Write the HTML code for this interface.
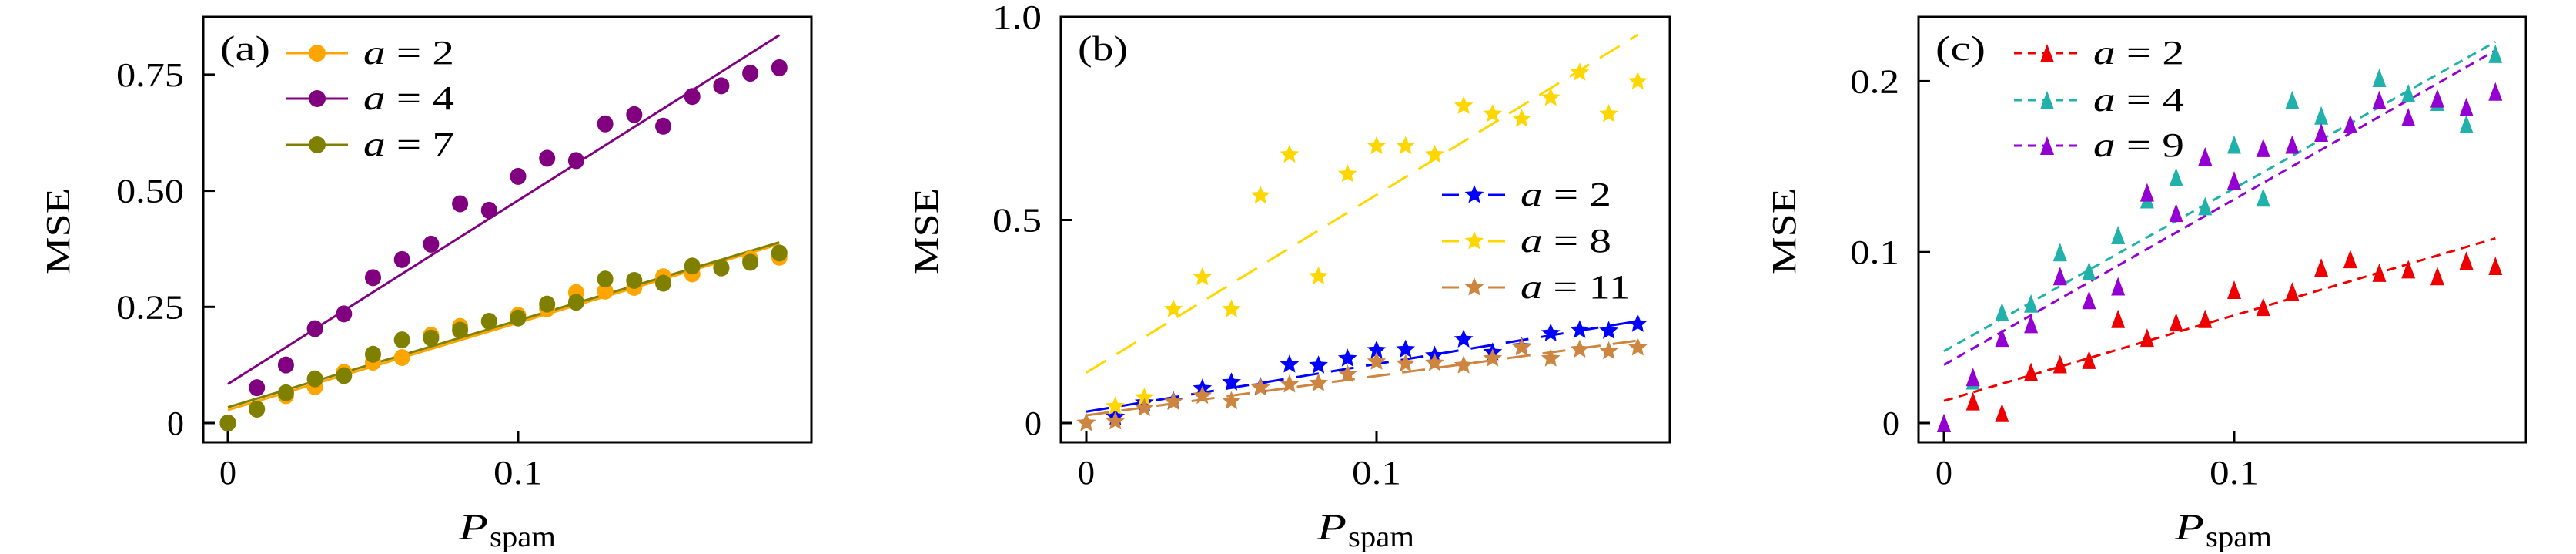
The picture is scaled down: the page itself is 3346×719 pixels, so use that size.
<!DOCTYPE html>
<html><head><meta charset="utf-8">
<style>
html,body{margin:0;padding:0;background:#fff;}
svg{display:block;}
text{font-family:"Liberation Serif",serif;fill:#000;}
</style></head>
<body>
<svg id="fig" width="3346" height="719" viewBox="0 0 3346 719" xmlns="http://www.w3.org/2000/svg"></svg>
<script>
// ---------- data ----------
const xs = [0,0.01,0.02,0.03,0.04,0.05,0.06,0.07,0.08,0.09,0.10,0.11,0.12,0.13,0.14,0.15,0.16,0.17,0.18,0.19];
// panel (a)
const aCat = ["2","4","7"];
const aS2 = [0,0.030,0.059,0.078,0.109,0.131,0.141,0.189,0.208,0.219,0.232,0.246,0.281,0.284,0.292,0.315,0.321,0.334,0.353,0.357];
const aS4 = [0,0.076,0.125,0.203,0.235,0.313,0.352,0.385,0.472,0.458,0.531,0.570,0.565,0.644,0.664,0.639,0.703,0.726,0.753,0.765];
const aS7 = [0,0.030,0.065,0.095,0.102,0.148,0.179,0.183,0.200,0.219,0.226,0.256,0.260,0.310,0.307,0.301,0.338,0.334,0.346,0.366];
const aFit2 = [0.028,0.385];
const aFit4 = [0.084,0.835];
const aFit7 = [0.034,0.389];
const aTicksY = [0,0.25,0.5,0.75];
const aTickLabelsY = ["0","0.25","0.50","0.75"];
// panel (b)
const bCat = ["2","8","11"];
const bS2 = [0,0.015,0.050,0.054,0.085,0.100,0.089,0.144,0.142,0.159,0.179,0.181,0.166,0.206,0.174,0.188,0.221,0.229,0.227,0.244];
const bS8 = [0,0.041,0.063,0.280,0.359,0.280,0.560,0.661,0.361,0.613,0.682,0.682,0.661,0.781,0.761,0.749,0.801,0.863,0.761,0.841];
const bS11 = [0,0.004,0.037,0.052,0.067,0.054,0.087,0.095,0.098,0.120,0.151,0.146,0.148,0.142,0.159,0.186,0.159,0.181,0.177,0.186];
const bFit2 = [0.028,0.251];
const bFit8 = [0.124,0.956];
const bFit11 = [0.019,0.203];
const bTicksY = [0,0.5,1.0];
const bTickLabelsY = ["0","0.5","1.0"];
// panel (c)
const cCat = ["2","4","9"];
const cS2 = [0,0.0128,0.006,0.030,0.0345,0.037,0.061,0.050,0.059,0.061,0.078,0.068,0.077,0.091,0.096,0.088,0.090,0.086,0.095,0.092];
const cS4 = [0,0.025,0.065,0.070,0.100,0.089,0.110,0.131,0.144,0.127,0.163,0.132,0.189,0.180,0.175,0.202,0.193,0.188,0.175,0.216];
const cS9 = [0,0.027,0.050,0.058,0.086,0.072,0.080,0.135,0.123,0.156,0.142,0.161,0.163,0.170,0.175,0.189,0.179,0.190,0.185,0.194];
const cFit2 = [0.013,0.108];
const cFit4 = [0.042,0.223];
const cFit9 = [0.034,0.218];
const cTicksY = [0,0.1,0.2];
const cTickLabelsY = ["0","0.1","0.2"];
const ticksX = [0,0.1];
const tickLabelsX = ["0","0.1"];
const fitX = [0,0.19];

// ---------- drawing ----------
const NS = "http://www.w3.org/2000/svg";
const svg = document.getElementById('fig');
function mk(tag, attrs, parent){
  const e = document.createElementNS(NS, tag);
  for (const k in attrs) e.setAttribute(k, attrs[k]);
  (parent||svg).appendChild(e);
  return e;
}
function star(cx, cy, r){
  let p=[];
  for(let i=0;i<10;i++){
    const ang = -Math.PI/2 + i*Math.PI/5;
    const rr = i%2===0 ? r : r*0.45;
    p.push((cx+rr*Math.cos(ang)).toFixed(1)+","+(cy+rr*Math.sin(ang)).toFixed(1));
  }
  return p.join(" ");
}
function tri(cx, cy, w, h){
  return `${cx},${cy-h/2} ${cx+w/2},${cy+h/2} ${cx-w/2},${cy+h/2}`;
}

function panel(cfg){
  const g = mk('g', {});
  
  
  const L=cfg.left, R=cfg.right, T=22, B=574;
  const X = v => cfg.x0 + v*(cfg.x01-cfg.x0)/0.1;
  const Y = v => 549 - v*cfg.ppu;
  cfg.series.forEach((s)=>{
    const ln = mk('line', {x1:X(fitX[0]), y1:Y(s.fit[0]), x2:X(fitX[1]), y2:Y(s.fit[1]),
      stroke:s.color, 'stroke-width':3, 'stroke-dasharray':cfg.dash||'none'}, g);
    
    
  });
  cfg.series.forEach((s)=>{
    const sg = mk('g', {}, g);
    
    
    s.vals.forEach((v,i)=>{
      let m;
      if (cfg.marker==='circle') m = mk('ellipse', {cx:X(xs[i]), cy:Y(v), rx:10.5, ry:11, fill:s.color}, sg);
      else if (cfg.marker==='star') m = mk('polygon', {points:star(X(xs[i]),Y(v),13), fill:s.color}, sg);
      else m = mk('polygon', {points:tri(X(xs[i]),Y(v),18,24), fill:s.color}, sg);
      
      
    });
  });
  const fr = mk('rect', {x:L, y:T, width:R-L, height:B-T, fill:'none', stroke:'#000', 'stroke-width':3}, g);
  
  
  cfg.ticksY.forEach((v,i)=>{
    const t = mk('line', {x1:L, x2:L+15, y1:Y(v), y2:Y(v), stroke:'#000','stroke-width':3}, g);
    
    
    const lab = cfg.tickLabelsY[i];
    const tx = mk('text', {x:L-25, y:Y(v)+15, 'font-size':44, 'text-anchor':'end',
      textLength: lab.length===1?22:(lab.length===3?64:88), lengthAdjust:'spacingAndGlyphs'}, g);
    tx.textContent = lab;
    
    
  });
  ticksX.forEach((v,i)=>{
    const t = mk('line', {x1:X(v), x2:X(v), y1:B, y2:B-15, stroke:'#000','stroke-width':3}, g);
    
    
    const lab = tickLabelsX[i];
    const tx = mk('text', {x:X(v), y:628, 'font-size':44, 'text-anchor':'middle',
      textLength: lab.length===1?22:64, lengthAdjust:'spacingAndGlyphs'}, g);
    tx.textContent = lab;
    
    
  });
  const yt = mk('text', {x:0, y:0, 'font-size':44, 'text-anchor':'middle', textLength:112, lengthAdjust:'spacingAndGlyphs',
    transform:`translate(${cfg.yTitleX},300) rotate(-90)`}, g);
  yt.textContent = 'MSE';
  
  
  const xt = mk('text', {x:cfg.x01-77, y:700, 'font-size':48}, g);
  
  
  xt.innerHTML = '<tspan font-style="italic" textLength="38" lengthAdjust="spacingAndGlyphs">P</tspan><tspan dx="2" dy="9" font-size="38" textLength="86" lengthAdjust="spacingAndGlyphs">spam</tspan>';
  const pl = mk('text', {x:L+22, y:cfg.labelY, 'font-size':46, textLength:65, lengthAdjust:'spacingAndGlyphs'}, g);
  pl.textContent = cfg.label;
  
  
  const lg = mk('g', {}, g);
  
  
  cfg.series.forEach((s,i)=>{
    const y = cfg.legY[i];
    const eg = mk('g', {}, lg);
    
    
    if (cfg.marker==='circle'){
      mk('line', {x1:cfg.legX1, x2:cfg.legX2, y1:y, y2:y, stroke:s.color, 'stroke-width':3}, eg);
      mk('ellipse', {cx:cfg.legM, cy:y, rx:11, ry:11, fill:s.color}, eg);
    } else if (cfg.marker==='star') {
      mk('line', {x1:cfg.legX1, x2:cfg.legX1+22, y1:y, y2:y, stroke:s.color, 'stroke-width':3}, eg);
      mk('line', {x1:cfg.legX2-22, x2:cfg.legX2, y1:y, y2:y, stroke:s.color, 'stroke-width':3}, eg);
      mk('polygon', {points:star(cfg.legM,y,13), fill:s.color}, eg);
    } else {
      mk('line', {x1:cfg.legX1, x2:cfg.legX2, y1:y, y2:y, stroke:s.color, 'stroke-width':3, 'stroke-dasharray':'10 8'}, eg);
      mk('polygon', {points:tri(cfg.legM,y,18,24), fill:s.color}, eg);
    }
    const tx = mk('text', {x:cfg.legT, y:y+14, 'font-size':44, textLength: s.cat.length>1?143:118, lengthAdjust:'spacingAndGlyphs'}, eg);
    tx.innerHTML = '<tspan font-style="italic">a</tspan> = ' + s.cat;
  });
}

panel({name:'panel-a', left:264, right:1054, x0:296, x01:673, ppu:150.7/0.25, yTitleX:90,
  ticksY:aTicksY, tickLabelsY:aTickLabelsY, marker:'circle', label:'(a)', labelY:78,
  legX1:371, legX2:452, legM:412, legT:472, legY:[69,128,188],
  series:[{cat:aCat[0],vals:aS2,fit:aFit2,color:'#FFA500'},
          {cat:aCat[1],vals:aS4,fit:aFit4,color:'#800080'},
          {cat:aCat[2],vals:aS7,fit:aFit7,color:'#808000'}]});
panel({name:'panel-b', left:1378, right:2169, x0:1411, x01:1788, ppu:527, yTitleX:1218,
  ticksY:bTicksY, tickLabelsY:bTickLabelsY, marker:'star', label:'(b)', labelY:78, dash:'30 16',
  legX1:1873, legX2:1955, legM:1915, legT:1975, legY:[253,313,373],
  series:[{cat:bCat[0],vals:bS2,fit:bFit2,color:'#0000FF'},
          {cat:bCat[1],vals:bS8,fit:bFit8,color:'#FFD700'},
          {cat:bCat[2],vals:bS11,fit:bFit11,color:'#CD853F'}]});
panel({name:'panel-c', left:2492, right:3281, x0:2525, x01:2902, ppu:2218, yTitleX:2332,
  ticksY:cTicksY, tickLabelsY:cTickLabelsY, marker:'tri', label:'(c)', labelY:78, dash:'12 8',
  legX1:2616, legX2:2701, legM:2659, legT:2719, legY:[69,130,189],
  series:[{cat:cCat[0],vals:cS2,fit:cFit2,color:'#EE0000'},
          {cat:cCat[1],vals:cS4,fit:cFit4,color:'#20B2AA'},
          {cat:cCat[2],vals:cS9,fit:cFit9,color:'#9400D3'}]});
</script>
</body></html>
